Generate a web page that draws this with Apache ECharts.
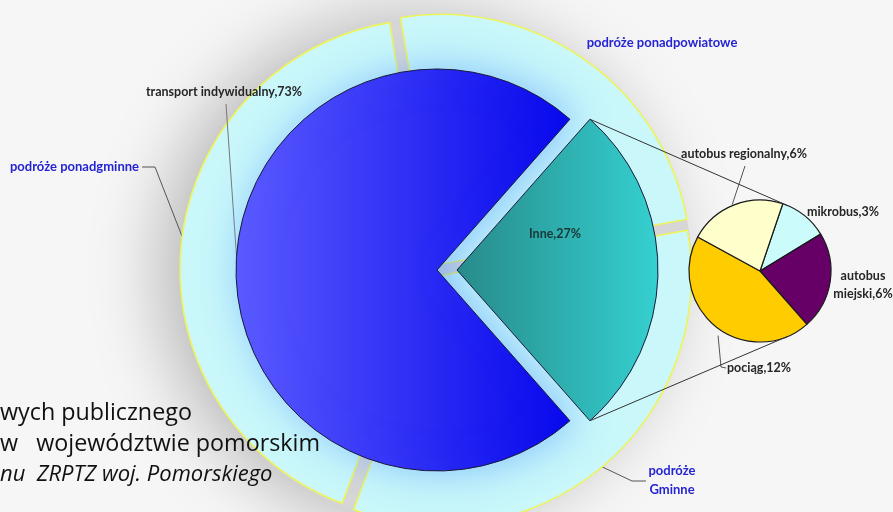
<!DOCTYPE html>
<html>
<head>
<meta charset="utf-8">
<script src="https://cdn.jsdelivr.net/npm/echarts@6/dist/echarts.min.js"></script>
<style>
  html, body { margin: 0; padding: 0; background: #f5f5f5; }
  #chart { width: 893px; height: 512px; }
</style>
</head>
<body>
<div id="chart"></div>
<script>
// Main modal split
const mainNames = ['Inne', 'transport indywidualny'];
const mainValues = [27, 73];

// Breakdown of "Inne"
const subNames = ['mikrobus', 'autobus miejski', 'pociąg', 'autobus regionalny'];
const subLabels = ['mikrobus', 'autobus\nmiejski', 'pociąg', 'autobus regionalny'];
const subValues = [3, 6, 12, 6];

// Trip range ring (share of the ring, %)
const ringNames = ['podróże ponadpowiatowe', 'podróże Gminne', 'podróże ponadgminne'];
const ringLabels = ['podróże ponadpowiatowe', 'podróże\nGminne', 'podróże ponadgminne'];
const ringValues = [24.7, 33.6, 41.7];

// Caption lines
const captionLines = ['wych publicznego', 'w   województwie pomorskim', 'nu  ZRPTZ woj. Pomorskiego'];

// ---- layout ----
const CX = 437, CY = 270, R = 201;
const INNE_SHIFT = 20;
const RING_R = 250, RING_SHIFT = 7;
const SUB_C = [760, 271], SUB_R = 71;
const RING_START = 99.3;
const SUB_START = 71.3;

const sum = a => a.reduce((s, v) => s + v, 0);
const inneSweep = mainValues[0] / sum(mainValues) * 360;
const MAIN_START = inneSweep / 2;

function polar(c, r, deg) {
  const a = deg * Math.PI / 180;
  return [c[0] + r * Math.cos(a), c[1] - r * Math.sin(a)];
}

// mid angles of ring slices -> exploded slice centres
const ringMid = [];
(function () {
  let acc = RING_START;
  const t = sum(ringValues);
  ringValues.forEach(v => { const sw = v / t * 360; ringMid.push(acc - sw / 2); acc -= sw; });
})();
const ringCenter = i => polar([CX, CY], RING_SHIFT, ringMid[i]);

// tangent point on a circle seen from an outside point
function tangent(P, C, r, sign) {
  const dx = P[0] - C[0], dy = P[1] - C[1];
  const d = Math.hypot(dx, dy);
  const ang = Math.atan2(dy, dx) + sign * Math.acos(r / d);
  return [C[0] + r * Math.cos(ang), C[1] + r * Math.sin(ang)];
}

const innApex = [CX + INNE_SHIFT, CY];
const innTop = polar(innApex, R, MAIN_START);
const innBot = polar(innApex, R, -MAIN_START);
const subTop = tangent(innTop, SUB_C, SUB_R, 1);
const subBot = tangent(innBot, SUB_C, SUB_R, -1);

const blueGrad = new echarts.graphic.LinearGradient(0, 0, 1, 0, [
  { offset: 0, color: '#5a5aff' }, { offset: 1, color: '#0707ec' }
]);
const tealGrad = new echarts.graphic.LinearGradient(0, 0, 1, 0, [
  { offset: 0, color: '#288a8a' }, { offset: 1, color: '#35d0d0' }
]);
const subColors = ['#ccfbfc', '#660066', '#ffcc00', '#ffffcc'];

const ringStyle = { color: '#c9f7fa', borderColor: '#eef45a', borderWidth: 1.6 };
const LINE = { color: '#555', width: 1 };
const HIDDEN = {
  itemStyle: { color: 'transparent', borderWidth: 0, shadowBlur: 0 },
  label: { show: false }, labelLine: { show: false }
};

const blueLabel = { color: '#2424d4', fontFamily: 'Lato', fontWeight: 'bold', fontSize: 13, lineHeight: 19 };
const darkLabel = { color: '#262626', fontFamily: 'Lato', fontWeight: 'bold', fontSize: 12.5, lineHeight: 19 };

// label placement and leader lines of the ring slices
const ringLabelPos = [
  { x: 662, y: 43, align: 'center', verticalAlign: 'middle' },
  { x: 672, y: 480, align: 'center', verticalAlign: 'middle',
    labelLinePoints: [polar(ringCenter(1), RING_R, -50), [632, 481], [646, 481]] },
  { x: 139, y: 167, align: 'right', verticalAlign: 'middle',
    labelLinePoints: [polar(ringCenter(2), RING_R, 172.5), [155, 167], [142, 167]] }
];

// one pie per ring slice, each pushed out along its own bisector
const ringSeries = ringValues.map((_, k) => ({
  type: 'pie', z: 1,
  center: ringCenter(k), radius: RING_R, startAngle: RING_START,
  avoidLabelOverlap: false,
  emphasis: { disabled: true },
  itemStyle: ringStyle,
  data: ringValues.map((v, i) => i === k
    ? { name: ringNames[i], value: v, labelLine: { show: !!ringLabelPos[i].labelLinePoints } }
    : Object.assign({ name: ringNames[i], value: v }, HIDDEN)),
  label: Object.assign({ show: true, position: 'outside', formatter: p => ringLabels[p.dataIndex] }, blueLabel),
  labelLine: { show: true, lineStyle: LINE },
  labelLayout: p => ringLabelPos[p.dataIndex]
}));

const chart = echarts.init(document.getElementById('chart'), null, { renderer: 'canvas' });

chart.setOption({
  animation: false,
  backgroundColor: '#f6f6f6',
  series: [
    {
      // soft shadow disc behind the ring
      type: 'pie', silent: true, z: 0,
      center: [CX, CY], radius: RING_R + RING_SHIFT - 2,
      label: { show: false }, labelLine: { show: false },
      emphasis: { disabled: true },
      data: [{ value: 1, name: 'tło', itemStyle: {
        color: '#d6d6d6', shadowBlur: 70, shadowColor: 'rgba(0,0,0,0.26)', shadowOffsetX: -22
      } }]
    },
    ...ringSeries,
    {
      // transport indywidualny
      type: 'pie', z: 2,
      center: [CX, CY], radius: R, startAngle: MAIN_START,
      avoidLabelOverlap: false,
      emphasis: { disabled: true },
      itemStyle: { borderColor: '#1a1a3c', borderWidth: 1 },
      data: [
        Object.assign({ name: mainNames[0], value: mainValues[0] }, HIDDEN),
        {
          name: mainNames[1], value: mainValues[1],
          itemStyle: { color: blueGrad, shadowBlur: 40, shadowColor: 'rgba(90,160,255,0.6)', shadowOffsetX: 6 }
        }
      ],
      label: Object.assign({ show: true, position: 'outside', formatter: '{b},{c}%' }, darkLabel),
      labelLine: { show: true, lineStyle: { color: '#777', width: 1 } },
      labelLayout: () => ({
        x: 224, y: 92, align: 'center', verticalAlign: 'middle',
        labelLinePoints: [polar([CX, CY], R, 176), [226, 104]]
      })
    },
    {
      // Inne, pulled out to the right
      type: 'pie', z: 3,
      center: innApex, radius: R, startAngle: MAIN_START,
      avoidLabelOverlap: false,
      emphasis: { disabled: true },
      itemStyle: { borderColor: '#1a1a3c', borderWidth: 1 },
      data: [
        { name: mainNames[0], value: mainValues[0], itemStyle: { color: tealGrad } },
        Object.assign({ name: mainNames[1], value: mainValues[1] }, HIDDEN)
      ],
      label: Object.assign({ show: true, position: 'inside', formatter: '{b},{c}%' }, darkLabel, { color: '#183838' }),
      labelLayout: () => ({ x: 555, y: 234, align: 'center', verticalAlign: 'middle' })
    },
    {
      type: 'pie', z: 4,
      center: SUB_C, radius: SUB_R, startAngle: SUB_START,
      avoidLabelOverlap: false,
      emphasis: { disabled: true },
      itemStyle: { borderColor: '#1a1a1a', borderWidth: 1.2 },
      data: subValues.map((v, i) => ({
        name: subNames[i], value: v,
        itemStyle: { color: subColors[i] },
        labelLine: { show: i >= 2 }
      })),
      label: Object.assign({
        show: true, position: 'outside',
        formatter: p => subLabels[p.dataIndex] + ',' + p.value + '%'
      }, darkLabel, { lineHeight: 18 }),
      labelLine: { show: true, lineStyle: LINE },
      labelLayout: p => {
        switch (p.dataIndex) {
          case 0: return { x: 843, y: 212, align: 'center', verticalAlign: 'middle' };
          case 1: return { x: 863, y: 285, align: 'center', verticalAlign: 'middle' };
          case 2: return {
            x: 727, y: 368, align: 'left', verticalAlign: 'middle',
            labelLinePoints: [polar(SUB_C, SUB_R + 6, -123), [721, 367], [726, 368]]
          };
          default: return {
            x: 744, y: 154, align: 'center', verticalAlign: 'middle',
            labelLinePoints: [polar(SUB_C, SUB_R + 1, 112.7), [745, 166]]
          };
        }
      }
    }
  ],
  graphic: [
    { type: 'line', z: 5, shape: { x1: innTop[0], y1: innTop[1], x2: subTop[0], y2: subTop[1] },
      style: { stroke: '#333', lineWidth: 1 } },
    { type: 'line', z: 5, shape: { x1: innBot[0], y1: innBot[1], x2: subBot[0], y2: subBot[1] },
      style: { stroke: '#333', lineWidth: 1 } },
    { type: 'text', z: 10, x: 0, y: 413,
      style: { text: captionLines[0], font: '23.3px "Open Sans"', fill: '#111', verticalAlign: 'middle' } },
    { type: 'text', z: 10, x: 0, y: 444,
      style: { text: captionLines[1], font: '23.3px "Open Sans"', fill: '#111', verticalAlign: 'middle' } },
    { type: 'text', z: 10, x: 0, y: 475,
      style: { text: captionLines[2], font: 'italic 22px "Open Sans"', fill: '#111', verticalAlign: 'middle' } }
  ]
});
</script>
</body>
</html>
